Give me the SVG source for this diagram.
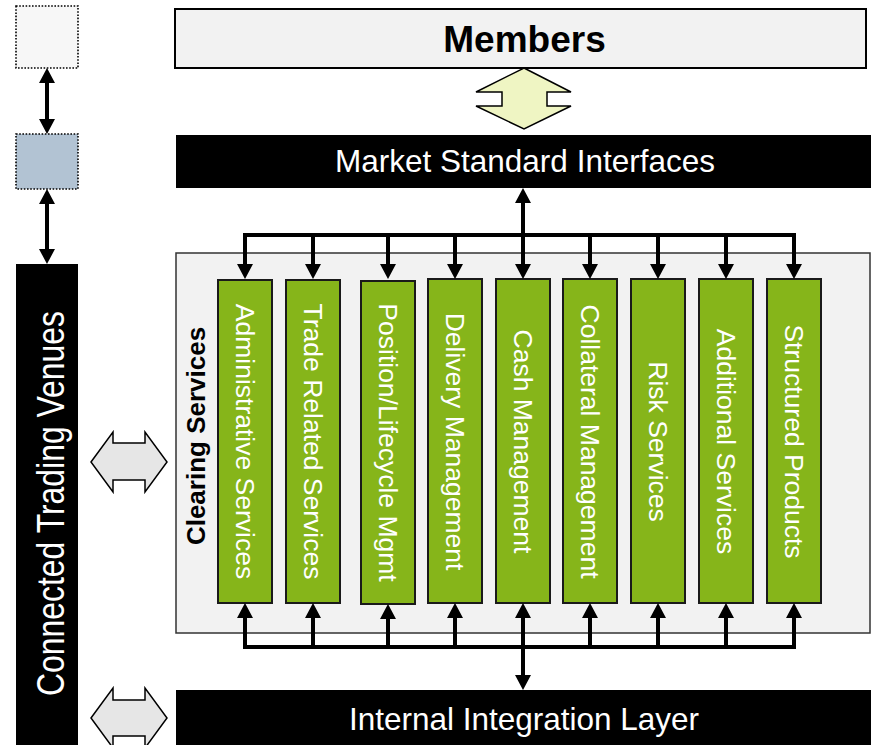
<svg xmlns="http://www.w3.org/2000/svg" width="871" height="745" viewBox="0 0 871 745">
  <defs>
    <style>
      .txt { font-family: "Liberation Sans", Arial, sans-serif; }
      .bar { fill: #000000; }
      .bar-label { font-family: "Liberation Sans", Arial, sans-serif; font-size: 31.5px; fill: #ffffff; text-anchor: middle; }
      .svc { fill: #86b51a; stroke: #1a1a1a; stroke-width: 2; }
      .svc-label { font-family: "Liberation Sans", Arial, sans-serif; font-size: 26.5px; fill: #ffffff; text-anchor: middle; }
      .wire { fill: none; stroke: #000000; stroke-width: 4; stroke-linejoin: miter; }
      .gray-arrow { fill: #e6e6e6; stroke: #000000; stroke-width: 1.5; stroke-linejoin: miter; }
      .dotted { stroke: #000000; stroke-width: 1.6; stroke-dasharray: 1.6 1.6; }
    </style>
    <!-- triangular head; tip sits 10px beyond the path end so the shaft stays hidden inside -->
    <marker id="head" viewBox="0 0 15 16" markerUnits="userSpaceOnUse" markerWidth="15" markerHeight="16" refX="5" refY="8" orient="auto-start-reverse">
      <path d="M0,0 L15,8 L0,16 z" fill="#000000"/>
    </marker>
  </defs>

  <rect width="871" height="745" fill="#ffffff"/>

  <!-- left-hand chain -->
  <g id="venue-top">
    <rect class="dotted" x="16" y="6" width="62" height="62" fill="#f7f7f7"/>
  </g>
  <g id="venue-mid">
    <rect class="dotted" x="16" y="134" width="62" height="55" fill="#b2c3d3"/>
  </g>
  <g id="connected-trading-venues">
    <rect class="bar" x="16" y="264" width="62" height="481"/>
    <text class="txt" transform="translate(64,503.5) rotate(-90)" font-size="39" fill="#ffffff" text-anchor="middle" textLength="385" lengthAdjust="spacingAndGlyphs">Connected Trading Venues</text>
  </g>

  <!-- top layers -->
  <g id="members">
    <rect x="175" y="9" width="691" height="59" fill="#f2f2f2" stroke="#000000" stroke-width="2"/>
    <text class="txt" x="524.5" y="52" font-size="37" font-weight="bold" text-anchor="middle" fill="#000000">Members</text>
  </g>
  <g id="members-link">
    <polygon points="524,68 571,92 547,92 547,106 571,106 524,129 476,106 502,106 502,92 476,92" fill="#eff5c3" stroke="#000000" stroke-width="1.5"/>
  </g>
  <g id="market-standard-interfaces">
    <rect class="bar" x="176" y="135" width="695" height="53"/>
    <text class="bar-label" x="525" y="172">Market Standard Interfaces</text>
  </g>

  <!-- clearing services container -->
  <g id="clearing-services">
    <rect x="176" y="253" width="694" height="380" fill="#f2f2f2" stroke="#333333" stroke-width="1.5"/>
    <text class="txt" transform="translate(205,436) rotate(-90)" font-size="26" font-weight="bold" text-anchor="middle" fill="#000000">Clearing Services</text>
  </g>

  <g id="svc-administrative">
    <rect class="svc" x="218" y="280" width="54" height="323"/>
    <text class="svc-label" transform="translate(235.5,441.5) rotate(90)">Administrative Services</text>
  </g>
  <g id="svc-trade">
    <rect class="svc" x="286" y="280" width="54" height="323"/>
    <text class="svc-label" transform="translate(303.5,441.5) rotate(90)">Trade Related Services</text>
  </g>
  <g id="svc-position">
    <rect class="svc" x="361" y="281" width="54" height="323"/>
    <text class="svc-label" transform="translate(378.5,442.5) rotate(90)">Position/Lifecycle Mgmt</text>
  </g>
  <g id="svc-delivery">
    <rect class="svc" x="428" y="279" width="54" height="324"/>
    <text class="svc-label" transform="translate(445.5,441.5) rotate(90)">Delivery Management</text>
  </g>
  <g id="svc-cash">
    <rect class="svc" x="496" y="279" width="54" height="324"/>
    <text class="svc-label" transform="translate(513.5,441.5) rotate(90)">Cash Management</text>
  </g>
  <g id="svc-collateral">
    <rect class="svc" x="563" y="279" width="54" height="324"/>
    <text class="svc-label" transform="translate(580.5,441.5) rotate(90)">Collateral Management</text>
  </g>
  <g id="svc-risk">
    <rect class="svc" x="631" y="279" width="54" height="324"/>
    <text class="svc-label" transform="translate(648.5,441.5) rotate(90)">Risk Services</text>
  </g>
  <g id="svc-additional">
    <rect class="svc" x="699" y="279" width="54" height="324"/>
    <text class="svc-label" transform="translate(716.5,441.5) rotate(90)">Additional Services</text>
  </g>
  <g id="svc-structured">
    <rect class="svc" x="767" y="279" width="54" height="324"/>
    <text class="svc-label" transform="translate(784.5,441.5) rotate(90)">Structured Products</text>
  </g>

  <g id="internal-integration-layer">
    <rect class="bar" x="176" y="690" width="695" height="55"/>
    <text class="bar-label" x="524" y="730">Internal Integration Layer</text>
  </g>

  <!-- exchange arrows between venues and clearing -->
  <g id="venue-clearing-link">
    <polygon class="gray-arrow" points="91,462 113,432 113,443 145,443 145,432 167,462 145,492 145,480 113,480 113,492"/>
  </g>
  <g id="venue-integration-link">
    <polygon class="gray-arrow" points="91,718 113,688 113,700 145,700 145,688 167,718 145,748 145,736 113,736 113,748"/>
  </g>

  <!-- connectors -->
  <g id="connectors">
    <!-- left chain -->
    <path class="wire" d="M47,78 V124" marker-start="url(#head)" marker-end="url(#head)"/>
    <path class="wire" d="M47,199 V254" marker-start="url(#head)" marker-end="url(#head)"/>

    <!-- upper distribution bus -->
    <path class="wire" d="M245,269 V235 H794 V269" marker-start="url(#head)" marker-end="url(#head)"/>
    <path class="wire" d="M523,198 V269" marker-start="url(#head)" marker-end="url(#head)"/>
    <path class="wire" d="M313,235 V269" marker-end="url(#head)"/>
    <path class="wire" d="M388,235 V269" marker-end="url(#head)"/>
    <path class="wire" d="M455,235 V269" marker-end="url(#head)"/>
    <path class="wire" d="M590,235 V269" marker-end="url(#head)"/>
    <path class="wire" d="M658,235 V269" marker-end="url(#head)"/>
    <path class="wire" d="M726,235 V269" marker-end="url(#head)"/>

    <!-- lower collection bus -->
    <path class="wire" d="M245,613 V647 H794 V613" marker-start="url(#head)" marker-end="url(#head)"/>
    <path class="wire" d="M523,613 V680" marker-start="url(#head)" marker-end="url(#head)"/>
    <path class="wire" d="M313,647 V613" marker-end="url(#head)"/>
    <path class="wire" d="M388,647 V614" marker-end="url(#head)"/>
    <path class="wire" d="M455,647 V613" marker-end="url(#head)"/>
    <path class="wire" d="M590,647 V613" marker-end="url(#head)"/>
    <path class="wire" d="M658,647 V613" marker-end="url(#head)"/>
    <path class="wire" d="M726,647 V613" marker-end="url(#head)"/>
  </g>
</svg>
